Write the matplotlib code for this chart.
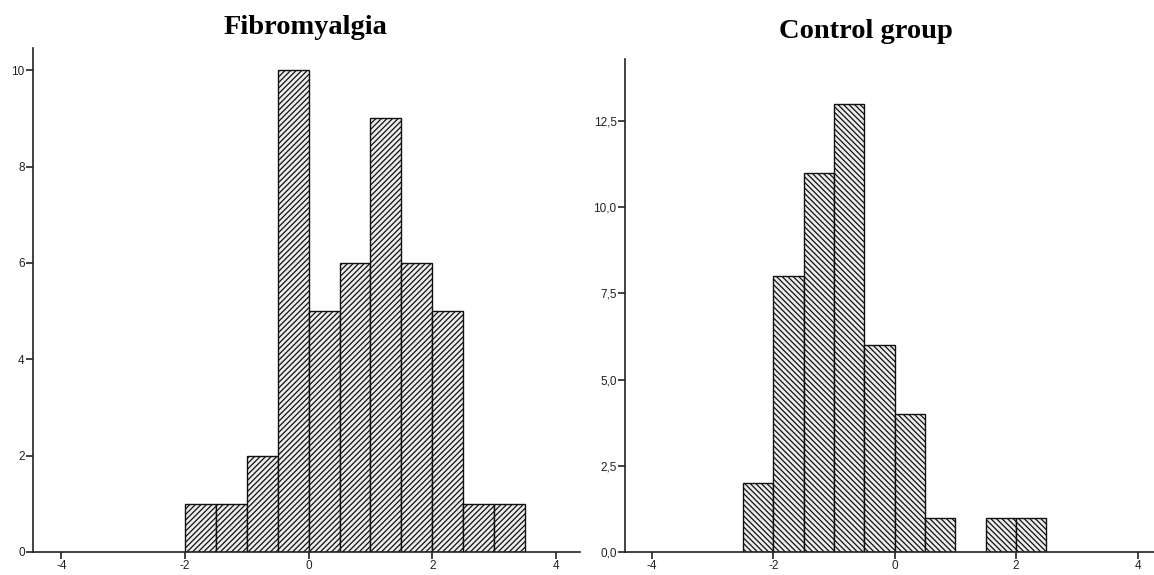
import matplotlib
matplotlib.use("Agg")
import matplotlib.pyplot as plt
from matplotlib.ticker import FuncFormatter

# bin left edges and counts (bin width 0.5)
fibro_edges = [-2.0, -1.5, -1.0, -0.5, 0.0, 0.5, 1.0, 1.5, 2.0, 2.5, 3.0]
fibro_counts = [1, 1, 2, 10, 5, 6, 9, 6, 5, 1, 1]

control_edges = [-2.5, -2.0, -1.5, -1.0, -0.5, 0.0, 0.5, 1.0, 1.5, 2.0]
control_counts = [2, 8, 11, 13, 6, 4, 1, 0, 1, 1]

x_ticks = [-4, -2, 0, 2, 4]
fibro_yticks = [0, 2, 4, 6, 8, 10]
control_yticks = [0, 2.5, 5, 7.5, 10, 12.5]

BIN_WIDTH = 0.5

plt.rcParams["hatch.color"] = "#3a3a3a"
plt.rcParams["hatch.linewidth"] = 0.9
plt.rcParams["axes.unicode_minus"] = False

fig = plt.figure(figsize=(11.54, 5.75), dpi=100)
W, H = 1154, 575
ax_l = fig.add_axes([33 / W, 23 / H, (580 - 33) / W, (552 - 48) / H])
ax_r = fig.add_axes([625 / W, 23 / H, (1154 - 625) / W, (552 - 59) / H])


def draw_hist(ax, edges, counts, hatch):
    lefts = [e for e, c in zip(edges, counts) if c > 0]
    heights = [c for c in counts if c > 0]
    ax.bar(lefts, heights, width=BIN_WIDTH, align="edge",
           color="#ececec", edgecolor="#111111", linewidth=1.0, hatch=hatch)


draw_hist(ax_l, fibro_edges, fibro_counts, "//////")
draw_hist(ax_r, control_edges, control_counts, "\\\\\\\\\\\\")

ax_l.set_xlim(-4.46, 4.39)
ax_l.set_ylim(0, 10.46)
ax_r.set_xlim(-4.44, 4.27)
ax_r.set_ylim(0, 14.29)

ax_l.set_yticks(fibro_yticks)
ax_r.set_yticks(control_yticks)
ax_r.yaxis.set_major_formatter(FuncFormatter(lambda v, p: f"{v:.1f}".replace(".", ",")))

for ax in (ax_l, ax_r):
    ax.set_xticks(x_ticks)
    ax.spines["top"].set_visible(False)
    ax.spines["right"].set_visible(False)
    ax.spines["left"].set_color("#222222")
    ax.spines["bottom"].set_color("#222222")
    ax.spines["left"].set_linewidth(1.2)
    ax.spines["bottom"].set_linewidth(1.2)
    ax.tick_params(axis="both", direction="out", length=5, width=1.2,
                   color="#222222", labelsize=8.5, pad=1)
    for lab in ax.get_xticklabels() + ax.get_yticklabels():
        lab.set_family("Liberation Sans")
        lab.set_color("#222222")

fig.text(306 / W, 1 - 27 / H, "Fibromyalgia", ha="center", va="center",
         fontsize=20.5, fontweight="bold", family="Liberation Serif")
fig.text(866 / W, 1 - 31 / H, "Control group", ha="center", va="center",
         fontsize=20.5, fontweight="bold", family="Liberation Serif")

fig.savefig("out.png", dpi=100)
